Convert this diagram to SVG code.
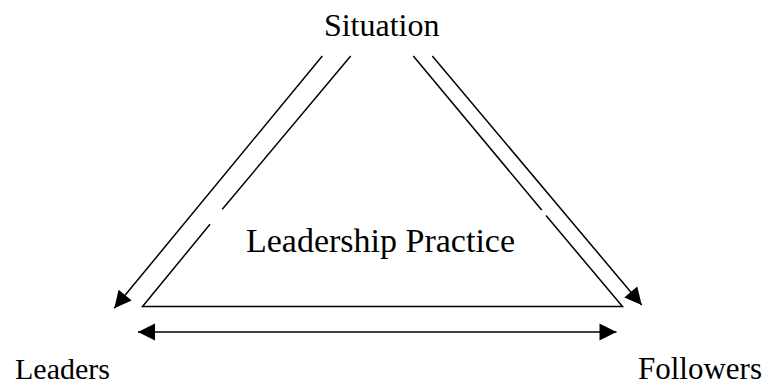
<svg xmlns="http://www.w3.org/2000/svg" width="767" height="385" viewBox="0 0 767 385">
<style>
.ln{stroke:#000;stroke-width:1.5;fill:none}
text{font-family:'Liberation Serif','Times New Roman','DejaVu Serif',serif;fill:#000}
</style>
<defs>
<marker id="ah" markerUnits="userSpaceOnUse" markerWidth="20" markerHeight="20" viewBox="-18 -10 20 20" refX="0" refY="0" orient="auto-start-reverse">
<path d="M-17,-8.5 L0,0 L-17,8.5 Z" fill="#000"/>
</marker>
</defs>
<rect width="767" height="385" fill="#fff"/>
<g id="triangle">
<polyline class="ln" points="222.3,209.3 350.7,56"/>
<polyline class="ln" points="210,224.3 142.5,306.5 622.5,306.5 546,215.5" stroke-width="1.8"/>
<polyline class="ln" points="541.7,210 413.3,56"/>
</g>
<g id="connectors">
<line class="ln" x1="322.3" y1="56" x2="114.3" y2="308.3" marker-end="url(#ah)"/>
<line class="ln" x1="432.3" y1="56" x2="641.7" y2="305" marker-end="url(#ah)"/>
<line class="ln" x1="138" y1="332" x2="616.5" y2="332" marker-start="url(#ah)" marker-end="url(#ah)"/>
</g>
<g id="situation"><text font-family="Liberation Serif, serif" x="381.7" y="36" font-size="32" text-anchor="middle">Situation</text></g>
<g id="leaders"><text font-family="Liberation Serif, serif" x="15" y="379" font-size="30">Leaders</text></g>
<g id="followers"><text font-family="Liberation Serif, serif" x="638" y="379" font-size="31">Followers</text></g>
<g id="practice"><text font-family="Liberation Serif, serif" x="246" y="252" font-size="34">Leadership Practice</text></g>
</svg>
